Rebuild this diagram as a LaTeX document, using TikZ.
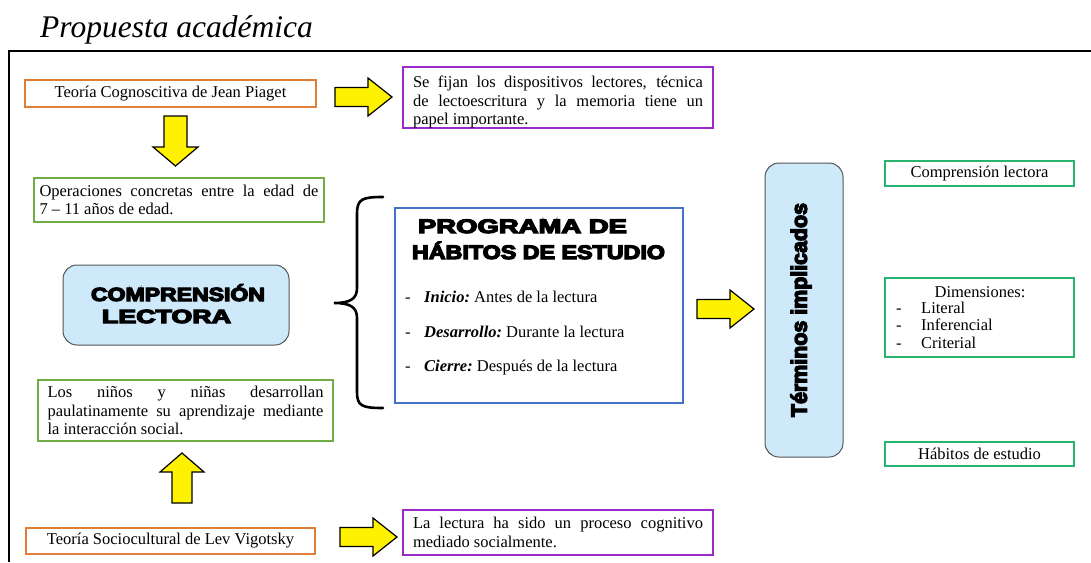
\documentclass[tikz,border=0pt]{standalone}
\usepackage{fontspec}
\usepackage{graphicx}
\setmainfont{Liberation Serif}
\newfontfamily\hfont[BoldFeatures={FakeBold=6}]{Liberation Sans}
\definecolor{orangeC}{RGB}{224,125,55}
\definecolor{purpleC}{RGB}{155,40,200}
\definecolor{greenL}{RGB}{112,173,71}
\definecolor{greenR}{RGB}{40,180,110}
\definecolor{blueC}{RGB}{68,114,196}
\definecolor{lblue}{RGB}{205,233,250}
\definecolor{grayC}{RGB}{85,85,85}
\newcommand\bodyf{\fontsize{16.5}{18.3}\selectfont}
\newcommand\hd[3][19]{\resizebox{#2pt}{\height}{\hfont\bfseries\fontsize{#1}{20}\selectfont #3}}
\tolerance=9999 \hyphenpenalty=10000 \hbadness=10000
\newcommand\rarrow[2]{%
  \draw[yarrow] (#1,#2-9.5) -- (#1+33,#2-9.5) -- (#1+33,#2-19) -- (#1+57,#2)
    -- (#1+33,#2+19) -- (#1+33,#2+9.5) -- (#1,#2+9.5) -- cycle;}
\tikzset{
  box/.style={draw, line width=2.4pt, inner ysep=0pt, font=\bodyf},
  obox/.style={box, draw=orangeC},
  pbox/.style={box, draw=purpleC},
  gboxL/.style={box, draw=greenL},
  gboxR/.style={box, draw=greenR},
  bbox/.style={box, draw=blueC},
  rbox/.style={draw=grayC, line width=1pt, fill=lblue, rounded corners=14pt, inner sep=0},
  yarrow/.style={draw=black, line width=1.2pt, fill=yellow, line join=miter},
  txt/.style={inner sep=0, font=\bodyf},
}
\begin{document}
\begin{tikzpicture}[x=1pt,y=-1pt]
\useasboundingbox (0,0) rectangle (1091,562);
% title and frame
\node[anchor=base west, inner sep=0, font=\fontsize{31.5}{36}\selectfont\itshape] (title) at (40,37) {Propuesta académica};
\draw[line width=2pt] (9,562) -- (9,51) -- (1091,51);

% left column
\node[obox, minimum width=291, minimum height=27] (piaget) at (170.5,93.5) {Teoría Cognoscitiva de Jean Piaget};
\node[pbox, text width=290, inner xsep=10, minimum height=61, align=justify] (fijan) at (558,97.5)
  {\rule{0pt}{21pt}Se fijan los dispositivos lectores, técnica\linebreak de lectoescritura y la memoria tiene un\linebreak papel importante.};
\node[gboxL, text width=279, inner xsep=5.5, minimum height=44, align=justify] (oper) at (179,200)
  {Operaciones concretas entre la edad de\linebreak 7 – 11 años de edad.};
\node[rbox, minimum width=226, minimum height=80] (comp) at (176,305) {};
\node[inner sep=0, anchor=base] (compA) at (178,301) {\hd{174}{COMPRENSIÓN}};
\node[inner sep=0, anchor=base] (compB) at (166.5,323) {\hd{129}{LECTORA}};
\node[gboxL, text width=276, inner xsep=9.5, minimum height=61, align=justify] (ninos) at (185.5,410.5)
  {Los niños y niñas desarrollan\linebreak paulatinamente su aprendizaje mediante\linebreak la interacción social.};
\node[obox, minimum width=289, minimum height=26] (vigotsky) at (170.5,541) {Teoría Sociocultural de Lev Vigotsky};
\node[pbox, text width=290, inner xsep=10, minimum height=45, align=justify] (lectura) at (558,532.5)
  {La lectura ha sido un proceso cognitivo\linebreak mediado socialmente.};

% yellow block arrows
\rarrow{335}{97}
\rarrow{340}{537}
\rarrow{697}{309}
\draw[yarrow] (164,116) -- (187,116) -- (187,147) -- (198,147) -- (175.5,166) -- (153,147) -- (164,147) -- cycle;
\draw[yarrow] (172,503) -- (192,503) -- (192,472) -- (204,472) -- (182,453) -- (160,472) -- (172,472) -- cycle;

% brace
\draw[line width=2.6pt, line cap=round]
  (383,197) .. controls (362,197) and (357,199) .. (357,214) -- (357,288)
  .. controls (357,299) and (350,303) .. (334,303)
  .. controls (350,303) and (357,307) .. (357,318) -- (357,392)
  .. controls (357,406) and (362,408) .. (383,408);

% programa box
\node[bbox, minimum width=288, minimum height=195] (prog) at (539,305.5) {};
\node[inner sep=0, anchor=base] (progA) at (522.5,233) {\hd[19.5]{209}{PROGRAMA DE}};
\node[inner sep=0, anchor=base] (progB) at (538.5,259) {\hd[19.5]{253}{HÁBITOS DE ESTUDIO}};
\node[txt, anchor=base west] (d1) at (405,302) {-};
\node[txt, anchor=base west] (i1) at (424,302) {\textbf{\textit{Inicio:}}~Antes de la lectura};
\node[txt, anchor=base west] (d2) at (405,337) {-};
\node[txt, anchor=base west] (i2) at (424,337) {\textbf{\textit{Desarrollo:}}~Durante la lectura};
\node[txt, anchor=base west] (d3) at (405,371) {-};
\node[txt, anchor=base west] (i3) at (424,371) {\textbf{\textit{Cierre:}}~Después de la lectura};

% terminos implicados
\node[rbox, minimum width=78, minimum height=294] (term) at (804,310) {};
\node[inner sep=0, rotate=90] (termT) at (801,310) {\hd[22]{214}{Términos implicados}};

% right boxes
\node[gboxR, minimum width=189, minimum height=25] (r1) at (979.5,173.5) {Comprensión lectora};
\node[gboxR, minimum width=189, minimum height=79] (r2) at (979.5,317.5) {};
\node[txt, anchor=base] (r2t) at (980,297) {Dimensiones:};
\node[txt, anchor=base west] (r2d1) at (896,313) {-};
\node[txt, anchor=base west] (r2a) at (921,313) {Literal};
\node[txt, anchor=base west] (r2d2) at (896,330.5) {-};
\node[txt, anchor=base west] (r2b) at (921,330.5) {Inferencial};
\node[txt, anchor=base west] (r2d3) at (896,348) {-};
\node[txt, anchor=base west] (r2c) at (921,348) {Criterial};
\node[gboxR, minimum width=189, minimum height=24] (r3) at (979.5,454) {Hábitos de estudio};
\end{tikzpicture}
\end{document}
